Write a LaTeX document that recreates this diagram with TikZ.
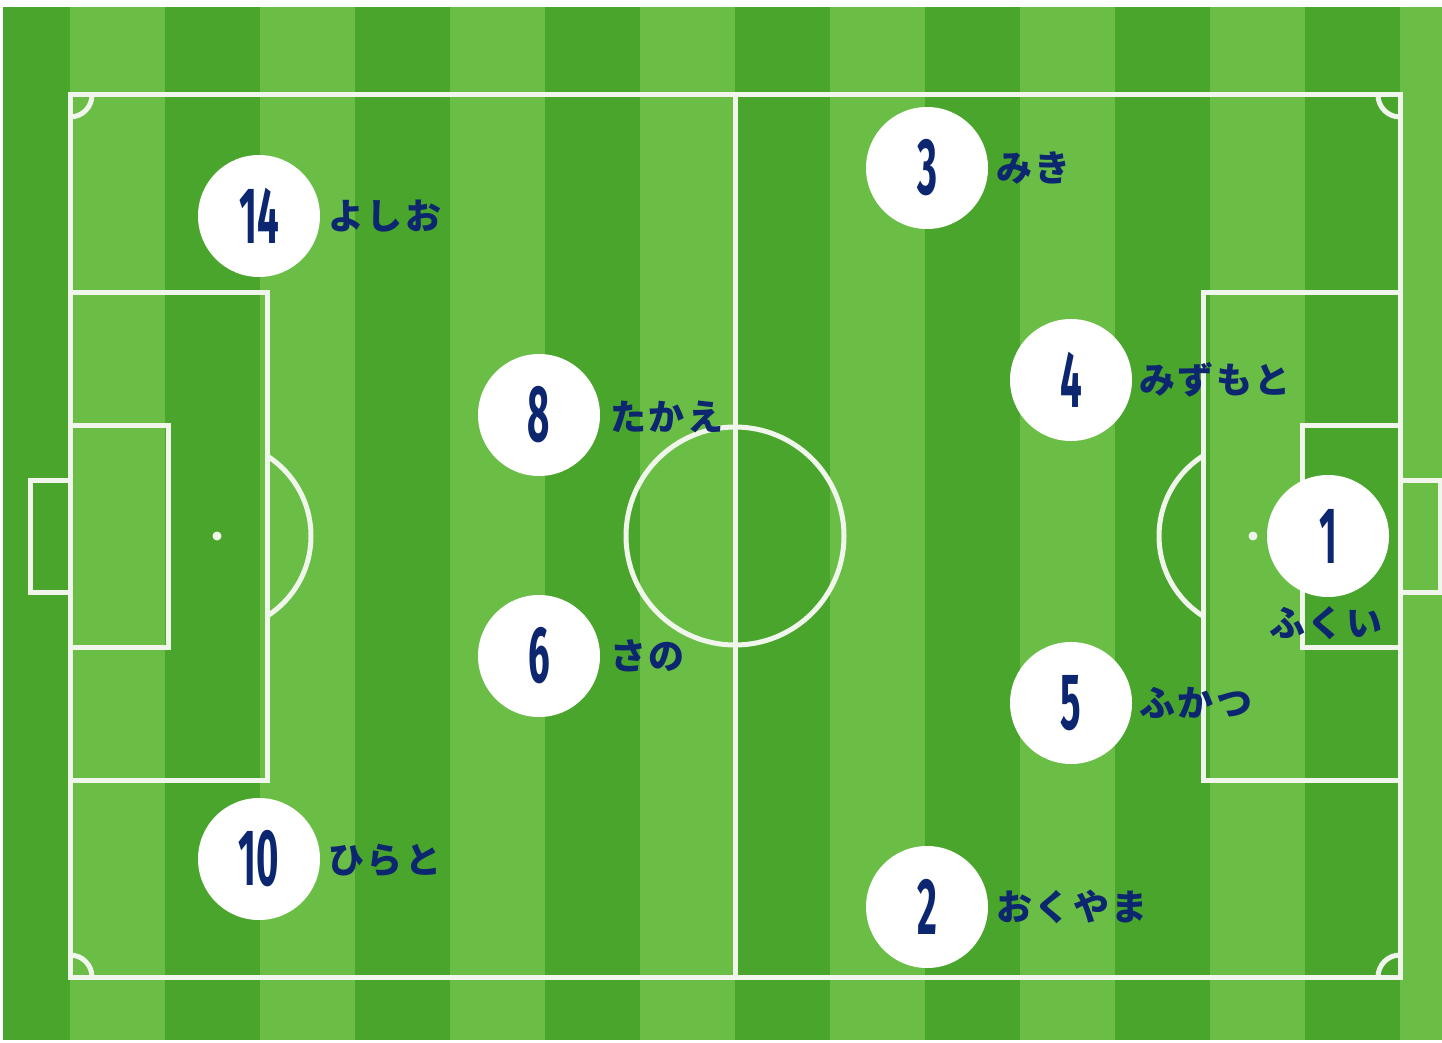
\documentclass[tikz,border=0pt]{standalone}
\usepackage{fontspec}
\usepackage{graphicx}
\newfontfamily\cjk{Noto Sans CJK JP}
\newfontfamily\numf{Fira Sans}
\definecolor{navy}{RGB}{12,38,112}
\definecolor{grassD}{RGB}{74,165,44}
\definecolor{grassL}{RGB}{106,190,70}
\definecolor{chalk}{RGB}{240,246,236}
\newcommand\ks{\kern2.5pt}
\begin{document}
\begin{tikzpicture}[x=1pt,y=-1pt,
  pitchline/.style={draw=chalk,line width=5pt},
  player/.style={circle,fill=white,minimum size=122pt,inner sep=0pt,text=navy,
    font=\numf\bfseries\fontsize{80}{80}\selectfont},
  pname/.style={anchor=west,inner sep=0pt,text=navy,
    font=\cjk\bfseries\fontsize{36}{36}\selectfont}]
\useasboundingbox (0,0) rectangle (1442,1043);
\fill[white] (0,0) rectangle (1442,1043);
\fill[grassD] (3,7) rectangle (1442,1040);
\foreach \i in {0,2,...,14} {
  \fill[grassL] ({70+95*\i},7) rectangle ({min(165+95*\i,1442)},1040);
}
% pitch markings
\draw[pitchline] (70,95) rectangle (1400,977);
\draw[pitchline] (735,95) -- (735,977);
\draw[pitchline] (735,536) circle[radius=109pt];
\draw[pitchline] (70,292) rectangle (267,780);
\draw[pitchline] (70,425) rectangle (168,647);
\draw[pitchline] (30,480) rectangle (70,592);
\draw[pitchline] (1203,292) rectangle (1400,780);
\draw[pitchline] (1302,425) rectangle (1400,647);
\draw[pitchline] (1400,480) rectangle (1440,592);
\begin{scope}
  \clip (269,0) rectangle (1201,1043);
  \draw[pitchline] (216,536) circle[radius=95pt];
  \draw[pitchline] (1254,536) circle[radius=95pt];
\end{scope}
\fill[chalk] (217,536) circle[radius=4.5pt];
\fill[chalk] (1253,536) circle[radius=4.5pt];
\draw[pitchline] (92,95) arc[start angle=0,end angle=-90,radius=22pt];
\draw[pitchline] (1378,95) arc[start angle=180,end angle=270,radius=22pt];
\draw[pitchline] (92,977) arc[start angle=0,end angle=90,radius=22pt];
\draw[pitchline] (1378,977) arc[start angle=180,end angle=90,radius=22pt];
% players
\node[player] (p14) at (259,216) {\scalebox{0.48}[1]{14}};
\node[player] (p8)  at (539,415) {\scalebox{0.48}[1]{8}};
\node[player] (p6)  at (539,656) {\scalebox{0.48}[1]{6}};
\node[player] (p10) at (259,859) {\scalebox{0.48}[1]{10}};
\node[player] (p3)  at (927,168) {\scalebox{0.48}[1]{3}};
\node[player] (p4)  at (1071,380) {\scalebox{0.48}[1]{4}};
\node[player] (p1)  at (1328,536) {\scalebox{0.48}[1]{1}};
\node[player] (p5)  at (1071,703) {\scalebox{0.48}[1]{5}};
\node[player] (p2)  at (927,907) {\scalebox{0.48}[1]{2}};
% names
\node[pname] (n14) at (328,216) {よ\ks し\ks お};
\node[pname] (n8)  at (610,417) {た\ks か\ks え};
\node[pname] (n6)  at (610,656) {さ\ks の};
\node[pname] (n10) at (328,861) {ひ\ks ら\ks と};
\node[pname] (n3)  at (996,168) {み\ks き};
\node[pname] (n4)  at (1139,380) {み\ks ず\ks も\ks と};
\node[pname] (n5)  at (1139,703) {ふ\ks か\ks つ};
\node[pname] (n2)  at (996,907) {お\ks く\ks や\ks ま};
\node[pname] (n1)  at (1269,623) {ふ\ks く\ks い};
\end{tikzpicture}
\end{document}
